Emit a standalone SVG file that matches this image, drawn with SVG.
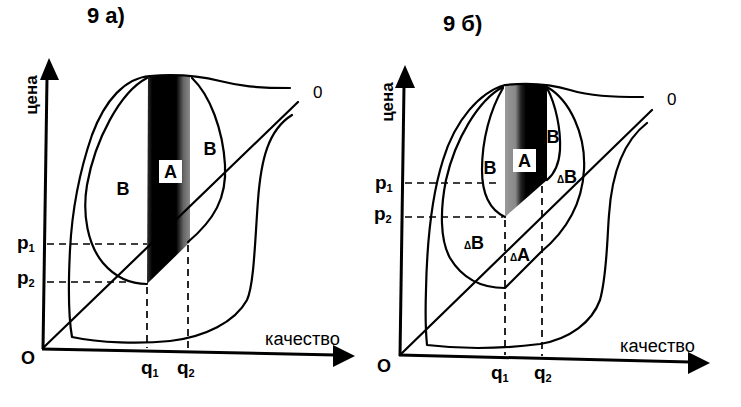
<svg xmlns="http://www.w3.org/2000/svg" width="741" height="407" viewBox="0 0 741 407">
<style>
.c{fill:none;stroke:#000;stroke-width:2.2;stroke-linecap:round;stroke-linejoin:round}
.ax{fill:none;stroke:#000;stroke-width:3}
.ah{fill:#000}
.d{fill:none;stroke:#000;stroke-width:1.7;stroke-dasharray:7 5}
.t{font-family:"Liberation Sans",Arial,sans-serif;fill:#000}
.b{font-weight:bold}
.lbl{font-family:"Liberation Sans",Arial,sans-serif;font-weight:bold;font-size:18px;text-anchor:middle;fill:#000}
</style>
<defs>
<linearGradient id="gA" x1="0" y1="0" x2="1" y2="0">
<stop offset="0" stop-color="#333"/>
<stop offset="0.12" stop-color="#000"/>
<stop offset="0.68" stop-color="#000"/>
<stop offset="0.85" stop-color="#666"/>
<stop offset="1" stop-color="#8a8a8a"/>
</linearGradient>
<linearGradient id="gB" x1="0" y1="0" x2="1" y2="0">
<stop offset="0" stop-color="#999"/>
<stop offset="0.25" stop-color="#888"/>
<stop offset="0.38" stop-color="#222"/>
<stop offset="0.5" stop-color="#000"/>
<stop offset="1" stop-color="#000"/>
</linearGradient>
</defs>

<!-- Chart 9a -->
<g id="chart-a">
<text class="t b" x="87" y="23" font-size="22">9 а)</text>
<g id="a-band"><path d="M148,77 Q169,73 190,77 L190,242 L147,284 Z" fill="url(#gA)"/></g>
<g id="a-curves">
<path class="c" d="M150,76 C175,74 200,76 220,81 C240,86 255,88 290,88"/>
<path class="c" d="M150,76 C125,78 105,100 92,135 C80,170 72,210 70,250 C68,290 69,320 72,337 C100,343 140,344 170,341 C205,337 235,322 247,300 C254,285 255,240 258,200 C261,160 268,130 292,115"/>
<path class="c" d="M147,78 C120,92 95,140 87,185 C82,215 88,245 103,263 C115,277 130,284 147,284"/>
<path class="c" d="M192,78 C210,95 223,130 225,165 C227,198 214,220 188,242"/>
<path class="c" d="M43,348 L298,102"/>
</g>
<g id="a-axes">
<path class="ax" d="M43,349 L47,78"/>
<polygon class="ah" points="49,58 40,80 59,80"/>
<path class="ax" d="M42,349 L336,355"/>
<polygon class="ah" points="355,356 333,345 333,367"/>
</g>
<g id="a-dashes">
<path class="d" d="M47,244 H147"/>
<path class="d" d="M47,282 H127"/>
<path class="d" d="M147,287 V348"/>
<path class="d" d="M188,245 V349"/>
</g>
<g id="a-labels">
<text class="t b" font-size="17" text-anchor="middle" x="37" y="95" transform="rotate(-90 37 95)">цена</text>
<text class="t b" font-size="18" text-anchor="middle" x="28" y="364">O</text>
<text class="t" font-size="18" x="265" y="345" textLength="75" lengthAdjust="spacingAndGlyphs">качество</text>
<text class="t" font-size="17" x="313" y="98">0</text>
<text class="t b" font-size="19" x="17" y="249">p<tspan font-size="11" dy="3">1</tspan></text>
<text class="t b" font-size="19" x="17" y="284">p<tspan font-size="11" dy="3">2</tspan></text>
<text class="t b" font-size="19" x="141" y="374">q<tspan font-size="11" dy="3">1</tspan></text>
<text class="t b" font-size="19" x="177" y="374">q<tspan font-size="11" dy="3">2</tspan></text>
<text class="lbl" x="123" y="195">B</text>
<text class="lbl" x="210" y="155">B</text>
<rect x="159" y="160" width="23" height="23" fill="#fff"/>
<text class="lbl" x="170.5" y="178">A</text>
</g>
</g>

<!-- Chart 9b -->
<g id="chart-b">
<text class="t b" x="443" y="31" font-size="22">9 б)</text>
<g id="b-band"><path d="M505,86 Q526,82 547,86 L547,180 L505,217 Z" fill="url(#gB)"/></g>
<g id="b-curves">
<path class="c" d="M505,85 C525,83 550,84 570,90 C590,96 610,97 643,97"/>
<path class="c" d="M505,85 C480,92 455,120 443,160 C432,195 427,240 426,290 C425,320 426,335 427,345 C460,349 500,349 540,344 C570,339 592,322 600,300 C607,275 607,240 609,215 C612,170 625,140 647,123"/>
<path class="c" d="M503,87 C478,100 455,140 446,180 C440,210 440,240 450,258 C462,278 480,288 505,288 L541,252 C565,232 582,205 584,170 C586,135 570,100 547,87"/>
<path class="c" d="M503,88 C490,110 482,140 482,170 C482,195 490,210 505,217"/>
<path class="c" d="M547,88 C556,105 561,130 560,150 C559,165 553,175 547,180"/>
<path class="c" d="M400,355 L652,110"/>
</g>
<g id="b-axes">
<path class="ax" d="M400,356 L404,86"/>
<polygon class="ah" points="405,65 395,88 415,88"/>
<path class="ax" d="M399,355 L690,362"/>
<polygon class="ah" points="710,363 688,352 688,374"/>
</g>
<g id="b-dashes">
<path class="d" d="M405,183 H500"/>
<path class="d" d="M405,217 H503"/>
<path class="d" d="M505,220 V355"/>
<path class="d" d="M542,186 V356"/>
</g>
<g id="b-labels">
<text class="t b" font-size="17" text-anchor="middle" x="393" y="102" transform="rotate(-90 393 102)">цена</text>
<text class="t b" font-size="18" text-anchor="middle" x="384" y="372">O</text>
<text class="t" font-size="18" x="620" y="352" textLength="75" lengthAdjust="spacingAndGlyphs">качество</text>
<text class="t" font-size="17" x="667" y="105">0</text>
<text class="t b" font-size="19" x="375" y="189">p<tspan font-size="11" dy="3">1</tspan></text>
<text class="t b" font-size="19" x="374" y="220">p<tspan font-size="11" dy="3">2</tspan></text>
<text class="t b" font-size="19" x="491" y="379">q<tspan font-size="11" dy="3">1</tspan></text>
<text class="t b" font-size="19" x="534" y="379">q<tspan font-size="11" dy="3">2</tspan></text>
<text class="lbl" x="490" y="174">B</text>
<text class="lbl" x="553" y="143">B</text>
<rect x="513" y="149" width="23" height="23" fill="#fff"/>
<text class="lbl" x="524.5" y="167">A</text>
<text class="lbl" x="567" y="183"><tspan font-size="10">Δ</tspan>B</text>
<text class="lbl" x="474" y="249"><tspan font-size="10">Δ</tspan>B</text>
<text class="lbl" x="520" y="261"><tspan font-size="10">Δ</tspan>A</text>
</g>
</g>
</svg>
